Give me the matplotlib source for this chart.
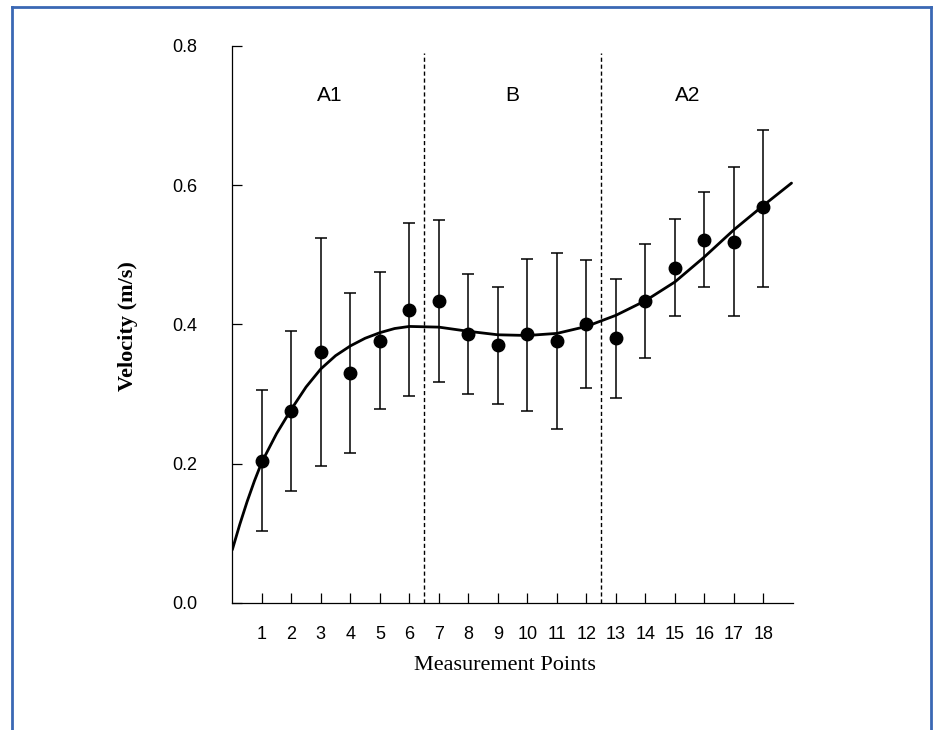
import numpy as np
import matplotlib
matplotlib.use("Agg")
import matplotlib.pyplot as plt
from matplotlib.lines import Line2D

# measurement points and mean velocity (m/s)
points = list(range(1, 19))
velocity = [0.203, 0.276, 0.360, 0.330, 0.376, 0.420, 0.434, 0.386, 0.371,
            0.386, 0.376, 0.400, 0.380, 0.433, 0.481, 0.521, 0.519, 0.568]
err_top = [0.305, 0.391, 0.524, 0.445, 0.475, 0.546, 0.550, 0.472, 0.454,
           0.494, 0.502, 0.492, 0.465, 0.516, 0.552, 0.590, 0.626, 0.680]
err_bottom = [0.103, 0.161, 0.196, 0.215, 0.278, 0.297, 0.317, 0.300, 0.286,
              0.275, 0.250, 0.308, 0.294, 0.352, 0.412, 0.453, 0.412, 0.453]

# fitted trend curve
curve_x = [0.0, 0.25, 0.5, 0.75, 1.0, 1.5, 2.0, 2.5, 3.0, 3.5, 4.0, 4.5, 5.0,
           5.5, 6.0, 7.0, 8.0, 9.0, 10.0, 11.0, 12.0, 13.0, 14.0, 15.0,
           16.0, 17.0, 18.0, 18.95]
curve_y = [0.076, 0.112, 0.145, 0.175, 0.202, 0.243, 0.278, 0.310, 0.336,
           0.355, 0.369, 0.380, 0.388, 0.394, 0.397, 0.396, 0.390, 0.385,
           0.384, 0.387, 0.397, 0.413, 0.434, 0.461, 0.497, 0.536, 0.571,
           0.603]

phase_edges = [6.5, 12.5]
phase_labels = ["A1", "B", "A2"]
phase_label_x = [3.31, 9.48, 15.44]

W, H = 933, 730
fig = plt.figure(figsize=(W / 100, H / 100), dpi=100)
ax = fig.add_axes([232.3 / W, 1 - 602.7 / H, 560.7 / W, 556.7 / H])

lower = np.array(velocity) - np.array(err_bottom)
upper = np.array(err_top) - np.array(velocity)
ax.errorbar(points, velocity, yerr=[lower, upper], fmt="o", color="black",
            markersize=9, ecolor="black", elinewidth=1.1, capsize=4,
            capthick=1.1, zorder=3)
ax.plot(curve_x, curve_y, color="black", lw=2.0, zorder=4,
        solid_capstyle="round", solid_joinstyle="round")

for xe in phase_edges:
    ax.plot([xe, xe], [0, 0.79], color="black", lw=1.0,
            linestyle=(0, (3, 2)), zorder=2)

for lab, xl in zip(phase_labels, phase_label_x):
    ax.text(xl, 0.729, lab, ha="center", va="center", fontsize=15,
            family="Liberation Sans")

ax.set_xlim(0, 19)
ax.set_ylim(0, 0.8)
ax.set_xticks(points)
ax.set_yticks([0.0, 0.2, 0.4, 0.6, 0.8])
ax.set_yticklabels(["0.0", "0.2", "0.4", "0.6", "0.8"])
for lbl in ax.get_xticklabels() + ax.get_yticklabels():
    lbl.set_family("Liberation Sans")
    lbl.set_fontsize(13)
ax.tick_params(axis="both", direction="in", length=7, width=0.9)
ax.tick_params(axis="x", pad=16.5)
ax.tick_params(axis="y", pad=25)
for s in ["top", "right"]:
    ax.spines[s].set_visible(False)
for s in ["left", "bottom"]:
    ax.spines[s].set_linewidth(0.9)

fig.text(128 / W, 1 - 326 / H, "Velocity (m/s)", rotation=90, ha="center",
         va="center", fontsize=16, family="Liberation Serif", weight="bold")
fig.text(505 / W, 1 - 666 / H, "Measurement Points", ha="center",
         va="center", fontsize=16, family="Liberation Serif")

# thin blue frame around the figure
frame = dict(transform=fig.transFigure, color="#3a68b4", lw=2)
fig.add_artist(Line2D([11.5 / W, 11.5 / W], [0, 1 - 6.5 / H], **frame))
fig.add_artist(Line2D([11.5 / W, 930.5 / W], [1 - 6.5 / H, 1 - 6.5 / H], **frame))
fig.add_artist(Line2D([930.5 / W, 930.5 / W], [0, 1 - 6.5 / H], **frame))

fig.savefig("out.png", dpi=100)
